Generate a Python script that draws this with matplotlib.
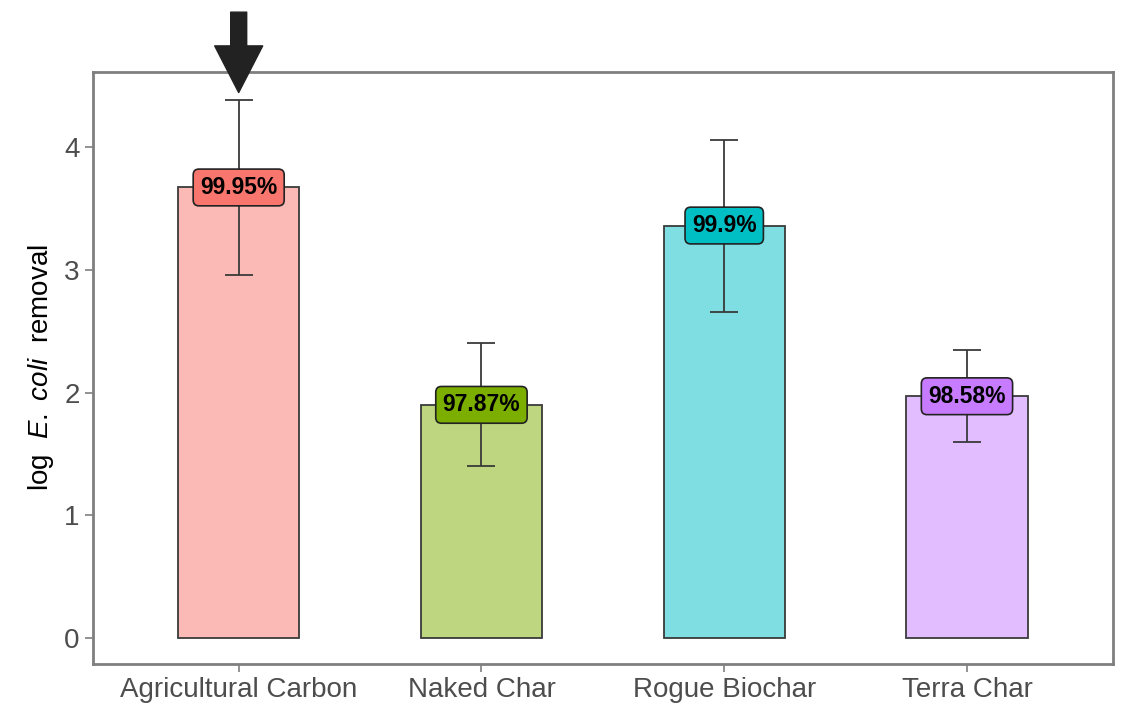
import matplotlib.pyplot as plt

groups = ['Agricultural Carbon', 'Naked Char', 'Rogue Biochar', 'Terra Char']
means = [3.67, 1.90, 3.36, 1.97]
err_low = [2.96, 1.40, 2.66, 1.60]
err_high = [4.38, 2.40, 4.06, 2.35]
labels = ['99.95%', '97.87%', '99.9%', '98.58%']
colors = ['#F8766D', '#7CAE00', '#00BFC4', '#C77CFF']

plt.rcParams['font.family'] = ['Liberation Sans', 'DejaVu Sans']
plt.rcParams['mathtext.fontset'] = 'custom'
plt.rcParams['mathtext.rm'] = 'Liberation Sans'
plt.rcParams['mathtext.it'] = 'Liberation Sans:italic'

fig = plt.figure(figsize=(11.25, 7.06), dpi=100)
ax = fig.add_axes([0.0827, 0.0595, 0.9063, 0.8385])

x = list(range(1, len(groups) + 1))
ax.bar(x, means, width=0.5, color=colors, alpha=0.5, zorder=2)
ax.bar(x, means, width=0.5, fill=False, edgecolor='#3a3a3a', linewidth=1.3, zorder=3)

yerr = [[m - lo for m, lo in zip(means, err_low)], [hi - m for m, hi in zip(means, err_high)]]
ax.errorbar(x, means, yerr=yerr, fmt='none', ecolor='#3a3a3a', elinewidth=1.3,
             capsize=10, capthick=1.3, zorder=4)

for xi, m, lab, c in zip(x, means, labels, colors):
    ax.text(xi, m, lab, ha='center', va='center', fontsize=16.5, fontweight='bold',
            color='black', zorder=5,
            bbox=dict(boxstyle='round,pad=0.3,rounding_size=0.25', fc=c,
                      ec='#222222', lw=1.2))

ax.set_xlim(0.4, 4.6)
ax.set_ylim(-0.21, 4.61)
ax.set_xticks(x)
ax.set_xticklabels(groups)
ax.set_yticks([0, 1, 2, 3, 4])
ax.tick_params(axis='both', labelsize=20, colors='#7f7f7f', labelcolor='#4d4d4d',
               length=6, width=1.2)
ax.set_ylabel(r'log  $\it{E.\ coli}$  removal', fontsize=20, color='black', labelpad=6)
for s in ax.spines.values():
    s.set_color('#7f7f7f')
    s.set_linewidth(2)

# arrow pointing at the first bar
ax.annotate('', xy=(1, 4.42), xytext=(1, 5.12), xycoords='data', annotation_clip=False,
            arrowprops=dict(arrowstyle='simple,head_length=1.4,head_width=1.44,tail_width=0.48',
                            fc='#222222', ec='#222222', mutation_scale=24))

fig.savefig('out.png', dpi=100)
